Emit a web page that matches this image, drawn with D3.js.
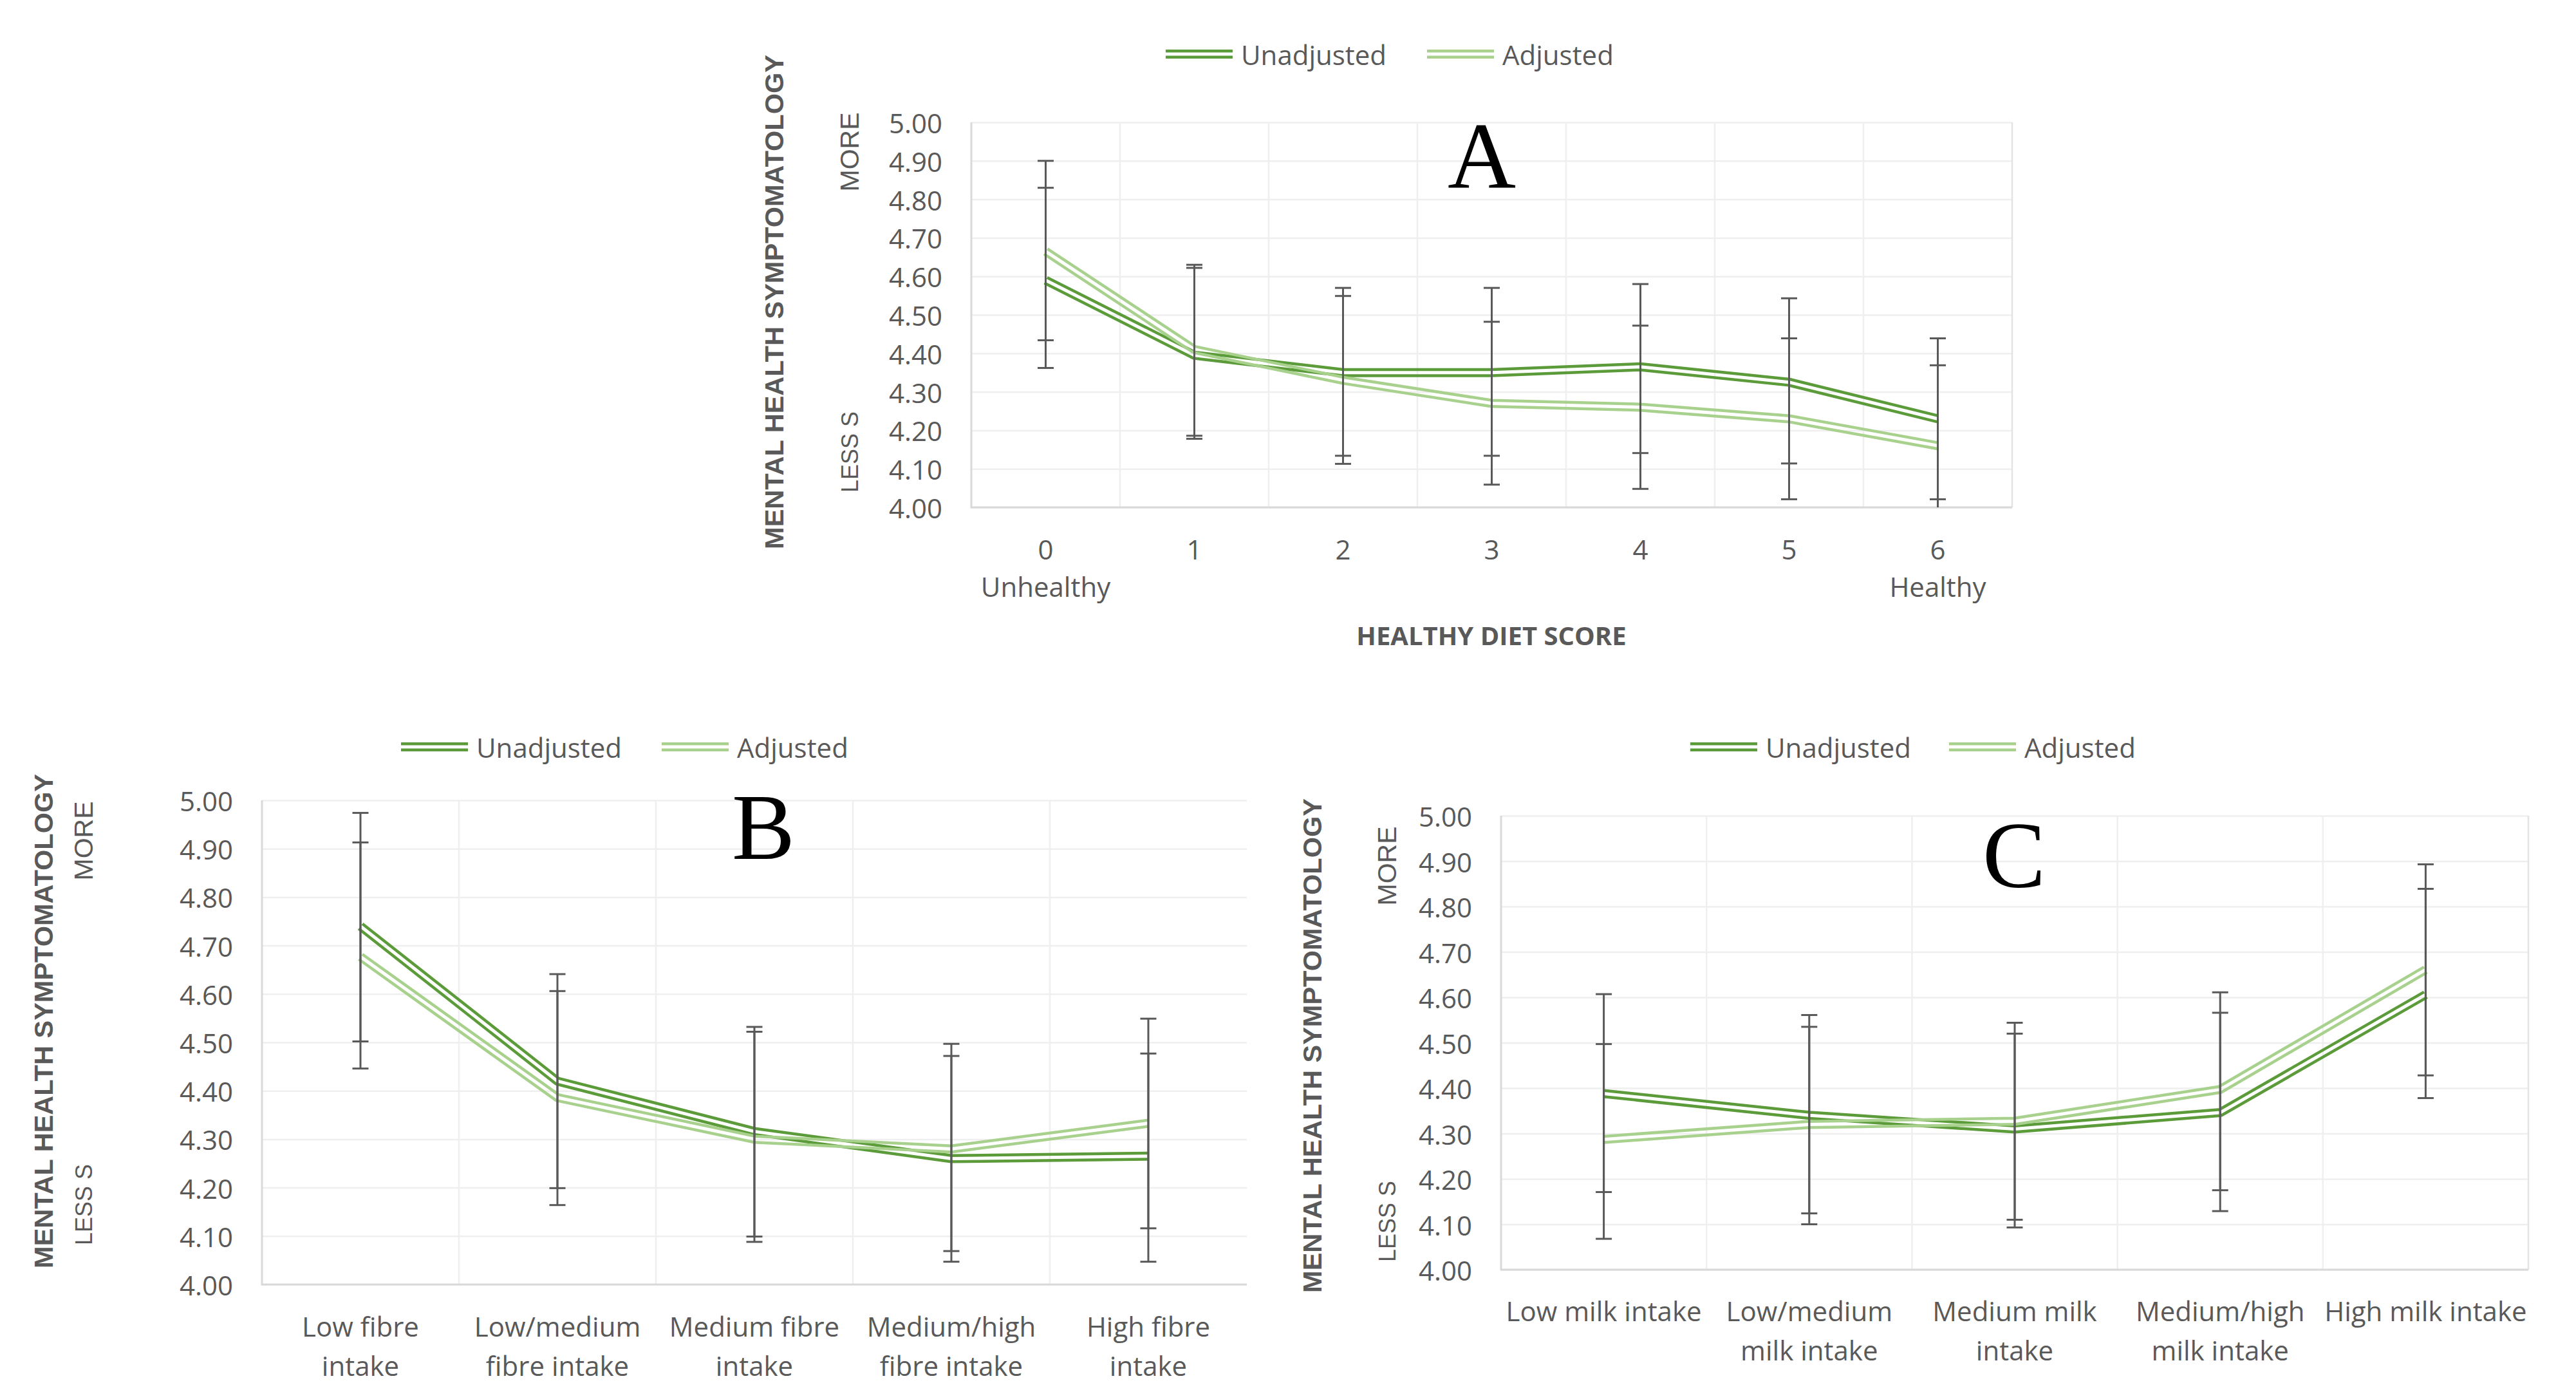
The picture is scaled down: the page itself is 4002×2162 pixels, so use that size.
<!DOCTYPE html>
<html><head><meta charset="utf-8">
<script src="https://cdn.jsdelivr.net/npm/d3@7"></script>
<style>body{margin:0;background:#fff} svg{display:block}</style>
</head><body>
<svg id="chart" width="4002" height="2162"></svg>
<script>
// ---------- DATA ----------
const yTicks = [4.00, 4.10, 4.20, 4.30, 4.40, 4.50, 4.60, 4.70, 4.80, 4.90, 5.00];
const seriesNames = ["Unadjusted", "Adjusted"];
const seriesColors = ["#5b9b39", "#a9d18e"];

// Panel A: Healthy diet score
const catsA = [["0", "Unhealthy"], ["1"], ["2"], ["3"], ["4"], ["5"], ["6", "Healthy"]];
const unadjA   = [4.59, 4.395, 4.35, 4.35, 4.365, 4.325, 4.23];
const unadjAHi = [4.83, 4.622, 4.57, 4.57, 4.58, 4.543, 4.439];
const unadjALo = [4.362, 4.178, 4.134, 4.134, 4.141, 4.114, 4.021];
const adjA     = [4.665, 4.41, 4.33, 4.27, 4.26, 4.23, 4.16];
const adjAHi   = [4.90, 4.63, 4.549, 4.482, 4.472, 4.439, 4.369];
const adjALo   = [4.434, 4.186, 4.113, 4.059, 4.048, 4.021, 3.95];

// Panel B: fibre intake
const catsB = [["Low fibre", "intake"], ["Low/medium", "fibre intake"], ["Medium fibre", "intake"], ["Medium/high", "fibre intake"], ["High fibre", "intake"]];
const unadjB   = [4.74, 4.42, 4.316, 4.26, 4.265];
const unadjBHi = [4.974, 4.641, 4.532, 4.472, 4.477];
const unadjBLo = [4.502, 4.199, 4.099, 4.047, 4.047];
const adjB     = [4.677, 4.386, 4.30, 4.28, 4.333];
const adjBHi   = [4.913, 4.606, 4.522, 4.497, 4.549];
const adjBLo   = [4.446, 4.164, 4.088, 4.069, 4.116];

// Panel C: milk intake
const catsC = [["Low milk intake"], ["Low/medium", "milk intake"], ["Medium milk", "intake"], ["Medium/high", "milk intake"], ["High milk intake"]];
const unadjC   = [4.388, 4.34, 4.31, 4.346, 4.606];
const unadjCHi = [4.607, 4.561, 4.52, 4.566, 4.839];
const unadjCLo = [4.171, 4.124, 4.093, 4.129, 4.378];
const adjC     = [4.287, 4.32, 4.327, 4.397, 4.661];
const adjCHi   = [4.497, 4.535, 4.544, 4.611, 4.893];
const adjCLo   = [4.068, 4.10, 4.11, 4.175, 4.428];

// ---------- LAYOUT ----------
const W = 4002, H = 2162;
const LW = 14, GAP = 5;
const TXT = "#595959";
const FONT = "'Open Sans', 'Noto Sans', sans-serif";
const TITLEFONT = "'Liberation Sans', Arial, sans-serif";

const panels = [
  { id: "A", cats: catsA, series: [[unadjA, unadjAHi, unadjALo], [adjA, adjAHi, adjALo]],
    plot: {l: 1509, r: 3126, t: 190, b: 788}, xLabelY: [852, 910],
    xTitle: {text: "HEALTHY DIET SCORE", x: 2317, y: 986},
    yTitle: {x: 1202, y: 469}, more: {x: 1320, y: 236}, less: {x: 1320, y: 702},
    legend: {y: 84, x: [1811, 2217]}, letter: {x: 2302, y: 291}, rightLine: true },
  { id: "B", cats: catsB, series: [[unadjB, unadjBHi, unadjBLo], [adjB, adjBHi, adjBLo]],
    plot: {l: 407, r: 1937, t: 1243, b: 1995}, xLabelY: [2059, 2120],
    xTitle: null,
    yTitle: {x: 67, y: 1586}, more: {x: 130, y: 1306}, less: {x: 130, y: 1871},
    legend: {y: 1160, x: [623, 1028]}, letter: {x: 1186, y: 1334}, rightLine: false },
  { id: "C", cats: catsC, series: [[unadjC, unadjCHi, unadjCLo], [adjC, adjCHi, adjCLo]],
    plot: {l: 2332, r: 3928, t: 1267, b: 1972}, xLabelY: [2035, 2096],
    xTitle: null,
    yTitle: {x: 2038, y: 1624}, more: {x: 2155, y: 1345}, less: {x: 2155, y: 1897},
    legend: {y: 1160, x: [2626, 3028]}, letter: {x: 3129, y: 1378}, rightLine: true }
];

const svg = d3.select("#chart");
svg.append("rect").attr("width", W).attr("height", H).attr("fill", "#fff");
const defs = svg.append("defs");

function doubleLine(g, d, color, id) {
  const m = defs.append("mask").attr("id", id).attr("maskUnits", "userSpaceOnUse")
    .attr("x", 0).attr("y", 0).attr("width", W).attr("height", H);
  m.append("path").attr("d", d).attr("fill", "none").attr("stroke", "#fff")
    .attr("stroke-width", LW + 4).attr("stroke-linejoin", "round");
  m.append("path").attr("d", d).attr("fill", "none").attr("stroke", "#000")
    .attr("stroke-width", GAP).attr("stroke-linejoin", "round");
  g.append("path").attr("d", d).attr("fill", "none").attr("stroke", color)
    .attr("stroke-width", LW).attr("stroke-linejoin", "round").attr("mask", `url(#${id})`);
}

panels.forEach(p => {
  const g = svg.append("g");
  const {l, r, t, b} = p.plot;
  const idx = d3.range(p.cats.length);
  const x = d3.scaleBand().domain(idx).range([l, r]).padding(0);
  const cx = i => x(i) + x.bandwidth() / 2;
  const y = d3.scaleLinear().domain([4, 5]).range([b, t]);

  defs.append("clipPath").attr("id", "clip" + p.id)
    .append("rect").attr("x", l - 20).attr("y", t).attr("width", r - l + 40).attr("height", b - t);

  // horizontal gridlines
  const gy = g.append("g").attr("transform", `translate(${l},0)`)
    .call(d3.axisLeft(y).tickValues(yTicks).tickSize(-(r - l)).tickFormat(""));
  gy.select(".domain").remove();
  gy.selectAll(".tick line").attr("stroke", "#efefef").attr("stroke-width", 2.5);

  // vertical gridlines at band edges
  const edges = idx.map(i => x(i)).concat(p.rightLine ? [r] : []).slice(1);
  g.append("g").selectAll("line").data(edges).join("line")
    .attr("x1", d => d).attr("x2", d => d).attr("y1", t).attr("y2", b)
    .attr("stroke", d => d === r ? "#e4e4e4" : "#efefef").attr("stroke-width", 2.5);

  // axis lines
  g.append("line").attr("x1", l).attr("x2", l).attr("y1", t).attr("y2", b + 1.5)
    .attr("stroke", "#d9d9d9").attr("stroke-width", 3);
  g.append("line").attr("x1", l).attr("x2", r).attr("y1", b).attr("y2", b)
    .attr("stroke", "#d9d9d9").attr("stroke-width", 3);

  // y tick labels
  const ay = g.append("g").attr("transform", `translate(${l},0)`)
    .call(d3.axisLeft(y).tickValues(yTicks).tickSize(0).tickPadding(45).tickFormat(d3.format(".2f")));
  ay.select(".domain").remove();
  ay.selectAll("text").attr("font-family", FONT).attr("font-size", 42).attr("fill", TXT)
    .attr("dy", null).attr("dominant-baseline", "central");

  // x tick labels (multi-line)
  const ax = g.append("g").attr("transform", `translate(0,${b})`)
    .call(d3.axisBottom(x).tickSize(0).tickFormat(""));
  ax.select(".domain").remove();
  ax.selectAll(".tick").each(function(i) {
    const tk = d3.select(this);
    tk.select("text").remove();
    p.cats[i].forEach((s, k) => {
      tk.append("text").attr("x", 0).attr("y", p.xLabelY[k] - b)
        .attr("text-anchor", "middle").attr("dominant-baseline", "central")
        .attr("font-family", FONT).attr("font-size", 42).attr("fill", TXT).text(s);
    });
  });

  // series lines
  const line = d3.line().x((v, i) => cx(i)).y(v => y(v));
  p.series.forEach((s, si) => {
    doubleLine(g, line(s[0]), seriesColors[si], `m${p.id}${si}`);
  });

  // error bars
  const eg = g.append("g").attr("clip-path", `url(#clip${p.id})`);
  p.series.forEach((s, si) => {
    idx.forEach(i => {
      const xc = cx(i), yh = y(s[1][i]), yl = y(s[2][i]);
      eg.append("line").attr("x1", xc).attr("x2", xc).attr("y1", yh).attr("y2", yl)
        .attr("stroke", "#595959").attr("stroke-width", 3);
      [yh, yl].forEach(yy => {
        eg.append("line").attr("x1", xc - 12.5).attr("x2", xc + 12.5).attr("y1", yy).attr("y2", yy)
          .attr("stroke", "#595959").attr("stroke-width", 3);
      });
    });
  });

  // panel letter
  g.append("text").attr("x", p.letter.x).attr("y", p.letter.y).attr("text-anchor", "middle")
    .attr("font-family", "'Liberation Serif', 'Times New Roman', serif").attr("font-size", 147)
    .attr("fill", "#000").text(p.id);

  // legend
  seriesNames.forEach((name, si) => {
    const lx = p.legend.x[si], ly = p.legend.y;
    doubleLine(g, `M${lx},${ly}H${lx + 104}`, seriesColors[si], `lg${p.id}${si}`);
    g.append("text").attr("x", lx + 117).attr("y", ly).attr("dominant-baseline", "central")
      .attr("font-family", FONT).attr("font-size", 42).attr("fill", TXT).text(name);
  });

  // y title
  g.append("text").attr("transform", `translate(${p.yTitle.x},${p.yTitle.y}) rotate(-90)`)
    .attr("text-anchor", "middle").attr("dominant-baseline", "central")
    .attr("font-family", TITLEFONT).attr("font-weight", "bold").attr("font-size", 41.5)
    .attr("fill", TXT).text("MENTAL HEALTH SYMPTOMATOLOGY");
  g.append("text").attr("transform", `translate(${p.more.x},${p.more.y}) rotate(-90)`)
    .attr("text-anchor", "middle").attr("dominant-baseline", "central")
    .attr("font-family", TITLEFONT).attr("font-size", 41).attr("fill", TXT).text("MORE");
  g.append("text").attr("transform", `translate(${p.less.x},${p.less.y}) rotate(-90)`)
    .attr("text-anchor", "middle").attr("dominant-baseline", "central")
    .attr("font-family", TITLEFONT).attr("font-size", 36).attr("fill", TXT).text("LESS S");

  // x title
  if (p.xTitle) {
    g.append("text").attr("x", p.xTitle.x).attr("y", p.xTitle.y).attr("text-anchor", "middle")
      .attr("dominant-baseline", "central").attr("font-family", FONT).attr("font-weight", "bold")
      .attr("font-size", 40).attr("fill", TXT).text(p.xTitle.text);
  }
});
</script>
</body></html>
